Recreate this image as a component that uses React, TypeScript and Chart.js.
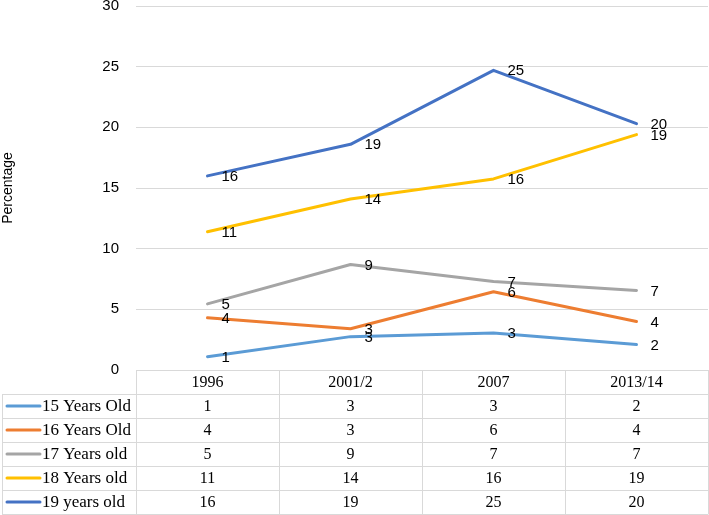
import React, { useEffect, useRef } from "react";
import { Chart, registerables } from "chart.js";

Chart.register(...registerables);

const categories = ["1996", "2001/2", "2007", "2013/14"];
const seriesNames = ["15 Years Old", "16 Years Old", "17 Years old", "18 Years old", "19 years old"];
const seriesColors = ["#5B9BD5", "#ED7D31", "#A5A5A5", "#FFC000", "#4472C4"];
const age15 = [1.1, 2.75, 3.05, 2.1];
const age16 = [4.3, 3.4, 6.45, 4.0];
const age17 = [5.45, 8.7, 7.3, 6.55];
const age18 = [11.4, 14.1, 15.75, 19.4];
const age19 = [16.0, 18.6, 24.7, 20.3];
const seriesValues = [age15, age16, age17, age18, age19];
const yTicks = { min: 0, max: 30, step: 5 };

const SANS = "'Liberation Sans', Arial, sans-serif";
const SERIF = "'Liberation Serif', 'Times New Roman', serif";
const GRID = "#d9d9d9";

const labelPlugin = {
  id: "pointLabels",
  afterDatasetsDraw(chart: any) {
    const ctx = chart.ctx;
    ctx.save();
    ctx.font = `15px ${SANS}`;
    ctx.fillStyle = "#000";
    ctx.textAlign = "left";
    ctx.textBaseline = "middle";
    chart.data.datasets.forEach((ds: any, di: number) => {
      const meta = chart.getDatasetMeta(di);
      meta.data.forEach((pt: any, i: number) => {
        ctx.fillText(String(Math.round(ds.data[i])), pt.x + 14, pt.y + 1);
      });
    });
    ctx.restore();
  },
};

const tablePlugin = {
  id: "dataTable",
  afterDraw(chart: any) {
    const ctx = chart.ctx;
    const area = chart.chartArea;
    const xs = chart.scales.x;
    const top = area.bottom;
    const rowH = 24;
    const left = area.left;
    const right = area.right;
    const tableLeft = 2;
    const n = categories.length;
    const colW = (right - left) / n;
    ctx.save();
    ctx.strokeStyle = GRID;
    ctx.lineWidth = 1;
    ctx.beginPath();
    ctx.moveTo(left, top + 0.5);
    ctx.lineTo(right, top + 0.5);
    for (let r = 1; r <= seriesNames.length + 1; r++) {
      const y = Math.round(top + r * rowH) + 0.5;
      ctx.moveTo(tableLeft, y);
      ctx.lineTo(right, y);
    }
    for (let c = 0; c <= n; c++) {
      const x = Math.round(left + c * colW) + 0.5;
      ctx.moveTo(x, top);
      ctx.lineTo(x, top + (seriesNames.length + 1) * rowH + 0.5);
    }
    ctx.moveTo(tableLeft + 0.5, top + rowH);
    ctx.lineTo(tableLeft + 0.5, top + (seriesNames.length + 1) * rowH + 0.5);
    ctx.stroke();

    ctx.fillStyle = "#000";
    ctx.textBaseline = "middle";
    ctx.textAlign = "center";
    ctx.font = `16px ${SERIF}`;
    categories.forEach((c, i) => {
      ctx.fillText(c, xs.getPixelForValue(i), top + rowH / 2 + 1);
    });
    seriesNames.forEach((name, r) => {
      const cy = top + (r + 1) * rowH + rowH / 2 + 1;
      ctx.strokeStyle = seriesColors[r];
      ctx.lineWidth = 3;
      ctx.lineCap = "round";
      ctx.beginPath();
      ctx.moveTo(7, cy - 1);
      ctx.lineTo(40, cy - 1);
      ctx.stroke();
      ctx.textAlign = "left";
      ctx.font = `17px ${SERIF}`;
      ctx.fillText(name, 42, cy);
      ctx.textAlign = "center";
      ctx.font = `16px ${SERIF}`;
      seriesValues[r].forEach((v, i) => {
        ctx.fillText(String(Math.round(v)), xs.getPixelForValue(i), cy);
      });
    });
    ctx.restore();
  },
};

export default function App() {
  const ref = useRef<HTMLCanvasElement | null>(null);
  useEffect(() => {
    if (!ref.current) return;
    const chart = new Chart(ref.current, {
      type: "line",
      data: {
        labels: categories,
        datasets: seriesNames.map((name, i) => ({
          label: name,
          data: seriesValues[i],
          borderColor: seriesColors[i],
          backgroundColor: seriesColors[i],
          borderWidth: 3,
          pointRadius: 0,
          tension: 0,
          borderCapStyle: "round",
          borderJoinStyle: "round",
        })),
      },
      options: {
        animation: false,
        responsive: false,
        layout: { padding: { left: 0, top: 0, right: 1, bottom: 145 } },
        plugins: { legend: { display: false }, tooltip: { enabled: false } },
        scales: {
          x: { type: "category", offset: true, display: false },
          y: {
            min: yTicks.min,
            max: yTicks.max,
            ticks: {
              stepSize: yTicks.step,
              color: "#000",
              padding: 0,
              font: { family: SANS, size: 15, lineHeight: 0.8 },
            },
            grid: {
              color: GRID,
              drawTicks: true,
              tickLength: 17,
              tickColor: "rgba(0,0,0,0)",
              lineWidth: 1,
            },
            border: { display: false },
            title: {
              display: true,
              text: "Percentage",
              color: "#000",
              padding: 0,
              font: { family: SANS, size: 14 },
            },
            afterFit: (scale: any) => {
              scale.width = 136;
            },
          },
        },
      },
      plugins: [labelPlugin, tablePlugin],
    } as any);
    return () => chart.destroy();
  }, []);
  return (
    <div style={{ position: "absolute", left: 0, top: 0, width: 709, height: 515, background: "#fff" }}>
      <canvas ref={ref} width={709} height={515} style={{ display: "block" }} />
    </div>
  );
}
